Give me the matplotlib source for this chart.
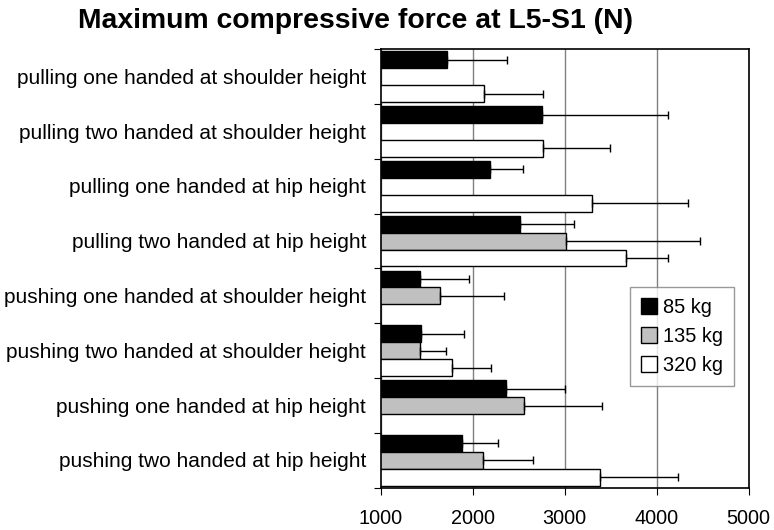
"""
Maximum compressive force at L5-S1, grouped horizontal bars
"""
import numpy as np
import matplotlib.pyplot as plt

plt.rcParams['font.family'] = ['Liberation Sans', 'DejaVu Sans']

# Categories, top to bottom
CATEGORIES = [
    "pulling one handed at shoulder height",
    "pulling two handed at shoulder height",
    "pulling one handed at hip height",
    "pulling two handed at hip height",
    "pushing one handed at shoulder height",
    "pushing two handed at shoulder height",
    "pushing one handed at hip height",
    "pushing two handed at hip height",
]
SERIES = ["85 kg", "135 kg", "320 kg"]

# Mean forces (N), nan = no bar
force_85 = [1715, 2755, 2190, 2510, 1430, 1435, 2365, 1880]
force_135 = [np.nan, np.nan, np.nan, 3010, 1645, 1430, 2555, 2115]
force_320 = [2125, 2765, 3295, 3670, np.nan, 1775, np.nan, 3385]

# Upper end of the error bars (N)
upper_85 = [2375, 4125, 2550, 3100, 1955, 1905, 3005, 2270]
upper_135 = [np.nan, np.nan, np.nan, 4470, 2340, 1710, 3405, 2655]
upper_320 = [2760, 3495, 4345, 4120, np.nan, 2195, np.nan, 4235]

X_TICKS = [1000, 2000, 3000, 4000, 5000]

fig = plt.figure(figsize=(7.74, 5.3), dpi=100)
ax = fig.add_axes([0.4919, 0.0798, 0.4754, 0.8272])

n = len(CATEGORIES)
centers = np.arange(n)
bar_h = 0.307
offsets = [-bar_h, 0.0, bar_h]
colors = ["black", "#c0c0c0", "white"]

for vals, ups, off, col, name in zip([force_85, force_135, force_320],
                                     [upper_85, upper_135, upper_320],
                                     offsets, colors, SERIES):
    vals = np.array(vals, dtype=float)
    err = np.array(ups, dtype=float) - vals
    xerr = [np.zeros(n), err]
    ax.barh(centers + off, vals, height=bar_h, color=col, edgecolor="black",
            linewidth=1.0, label=name, zorder=2)
    ax.errorbar(vals, centers + off, xerr=xerr, fmt="none", ecolor="black",
                elinewidth=1.0, capsize=3, capthick=1.0, zorder=3)

ax.set_xlim(1000, 5000)
ax.set_ylim(n - 0.5, -0.5)
ax.set_xticks(X_TICKS)
ax.set_xticklabels([str(t) for t in X_TICKS], fontsize=14.3)
ax.tick_params(axis="x", length=5, direction="out", pad=10)

# Category labels at centres, tick marks at boundaries
ax.set_yticks(np.arange(-0.5, n, 1.0))
ax.set_yticklabels([])
ax.tick_params(axis="y", length=5, direction="out")
for y, label in zip(centers, CATEGORIES):
    ax.text(-0.04, y + 0.03, label, transform=ax.get_yaxis_transform(),
            ha="right", va="center", fontsize=15)

ax.xaxis.grid(True, color="#808080", linewidth=1.0, zorder=0)
ax.set_axisbelow(True)
for spine in ax.spines.values():
    spine.set_linewidth(1.2)

ax.legend(loc="upper left", bbox_to_anchor=(0.677, 0.458), fontsize=14.4,
          frameon=True, fancybox=False, edgecolor="#808080",
          handlelength=0.8, handleheight=0.8, handletextpad=0.3,
          borderpad=0.55, labelspacing=0.5, borderaxespad=0)

fig.text(0.4587, 0.96, "Maximum compressive force at L5-S1 (N)",
         ha="center", va="center", fontsize=20.4, fontweight="bold")

fig.savefig("out.png", dpi=100)
